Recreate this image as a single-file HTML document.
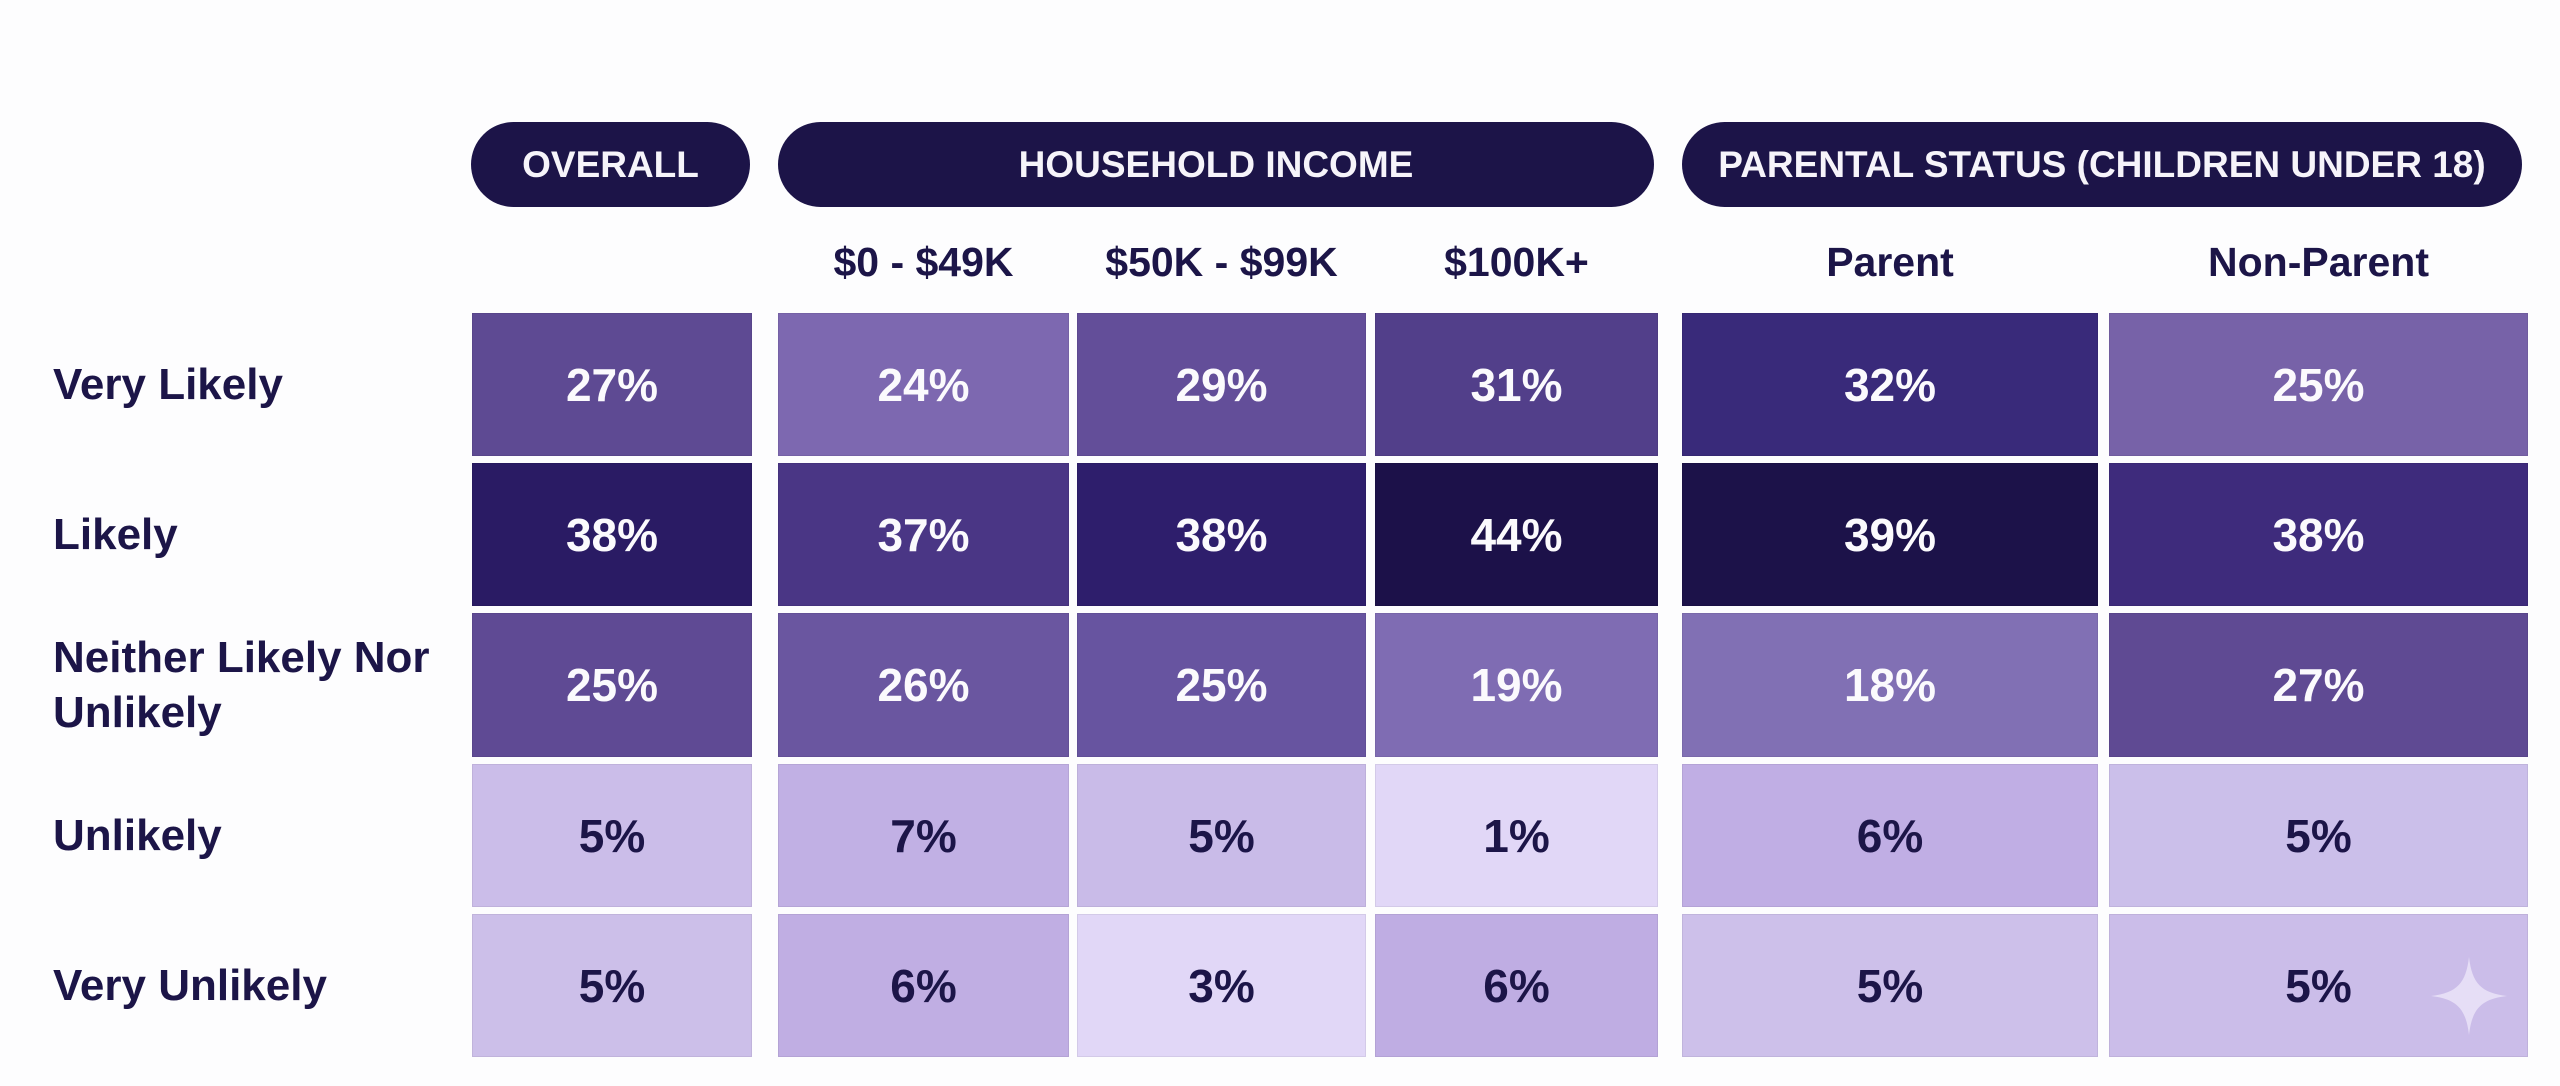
<!DOCTYPE html>
<html>
<head>
<meta charset="utf-8">
<style>
  html, body { margin:0; padding:0; }
  body { width:2560px; height:1086px; background:#fdfdfe; position:relative; overflow:hidden;
         font-family:"Liberation Sans", Arial, sans-serif; font-weight:bold; }
  .pill { position:absolute; top:122px; height:85px; border-radius:43px; background:#1c1448;
          color:#f6f4fa; font-size:37px; display:flex; align-items:center; justify-content:center; }
  .sub { position:absolute; top:236px; height:52px; font-size:41px; color:#1c1548;
         display:flex; align-items:center; justify-content:center; }
  .lbl { position:absolute; left:53px; font-size:44px; line-height:55px; color:#1c1548;
         display:flex; align-items:center; }
  .c { position:absolute; display:flex; align-items:center; justify-content:center;
       font-size:46px; color:#fbfafd; box-sizing:border-box; border:1px solid rgba(0,0,0,0.06); }
  .d { color:#1c1548; }
</style>
</head>
<body>
<!-- header pills -->
<div class="pill" style="left:471px;width:279px;">OVERALL</div>
<div class="pill" style="left:778px;width:876px;">HOUSEHOLD INCOME</div>
<div class="pill" style="left:1682px;width:840px;">PARENTAL STATUS (CHILDREN UNDER 18)</div>

<!-- sub headers -->
<div class="sub" style="left:778px;width:291px;">$0 - $49K</div>
<div class="sub" style="left:1077px;width:289px;">$50K - $99K</div>
<div class="sub" style="left:1375px;width:283px;">$100K+</div>
<div class="sub" style="left:1682px;width:416px;">Parent</div>
<div class="sub" style="left:2109px;width:419px;">Non-Parent</div>

<!-- row labels -->
<div class="lbl" style="top:313px;height:143px;">Very Likely</div>
<div class="lbl" style="top:463px;height:143px;">Likely</div>
<div class="lbl" style="top:613px;height:144px;">Neither Likely Nor<br>Unlikely</div>
<div class="lbl" style="top:764px;height:143px;">Unlikely</div>
<div class="lbl" style="top:914px;height:143px;">Very Unlikely</div>

<!-- Row 1 -->
<div class="c" style="left:472px;width:280px;top:313px;height:143px;background:#5e4a93;">27%</div>
<div class="c" style="left:778px;width:291px;top:313px;height:143px;background:#7d68b0;">24%</div>
<div class="c" style="left:1077px;width:289px;top:313px;height:143px;background:#634e99;">29%</div>
<div class="c" style="left:1375px;width:283px;top:313px;height:143px;background:#523f8a;">31%</div>
<div class="c" style="left:1682px;width:416px;top:313px;height:143px;background:#392a7a;">32%</div>
<div class="c" style="left:2109px;width:419px;top:313px;height:143px;background:#7762a8;">25%</div>

<!-- Row 2 -->
<div class="c" style="left:472px;width:280px;top:463px;height:143px;background:#2a1b64;">38%</div>
<div class="c" style="left:778px;width:291px;top:463px;height:143px;background:#4a3685;">37%</div>
<div class="c" style="left:1077px;width:289px;top:463px;height:143px;background:#2e1e6c;">38%</div>
<div class="c" style="left:1375px;width:283px;top:463px;height:143px;background:#1c1149;">44%</div>
<div class="c" style="left:1682px;width:416px;top:463px;height:143px;background:#1c1249;">39%</div>
<div class="c" style="left:2109px;width:419px;top:463px;height:143px;background:#3e2b7c;">38%</div>

<!-- Row 3 -->
<div class="c" style="left:472px;width:280px;top:613px;height:144px;background:#5f4a94;">25%</div>
<div class="c" style="left:778px;width:291px;top:613px;height:144px;background:#6a56a0;">26%</div>
<div class="c" style="left:1077px;width:289px;top:613px;height:144px;background:#6754a0;">25%</div>
<div class="c" style="left:1375px;width:283px;top:613px;height:144px;background:#7f6cb3;">19%</div>
<div class="c" style="left:1682px;width:416px;top:613px;height:144px;background:#8170b4;">18%</div>
<div class="c" style="left:2109px;width:419px;top:613px;height:144px;background:#5f4a93;">27%</div>

<!-- Row 4 -->
<div class="c d" style="left:472px;width:280px;top:764px;height:143px;background:#cbbde9;">5%</div>
<div class="c d" style="left:778px;width:291px;top:764px;height:143px;background:#c1b0e4;">7%</div>
<div class="c d" style="left:1077px;width:289px;top:764px;height:143px;background:#c9bbe8;">5%</div>
<div class="c d" style="left:1375px;width:283px;top:764px;height:143px;background:#e1d7f7;">1%</div>
<div class="c d" style="left:1682px;width:416px;top:764px;height:143px;background:#c0aee4;">6%</div>
<div class="c d" style="left:2109px;width:419px;top:764px;height:143px;background:#cbbfea;">5%</div>

<!-- Row 5 -->
<div class="c d" style="left:472px;width:280px;top:914px;height:143px;background:#ccbfe9;">5%</div>
<div class="c d" style="left:778px;width:291px;top:914px;height:143px;background:#c0aee3;">6%</div>
<div class="c d" style="left:1077px;width:289px;top:914px;height:143px;background:#e1d7f7;">3%</div>
<div class="c d" style="left:1375px;width:283px;top:914px;height:143px;background:#bfade3;">6%</div>
<div class="c d" style="left:1682px;width:416px;top:914px;height:143px;background:#cdc0ea;">5%</div>
<div class="c d" style="left:2109px;width:419px;top:914px;height:143px;background:#cbbde9;">5%</div>

<!-- sparkle -->
<svg style="position:absolute;left:2431px;top:957px;" width="76" height="78" viewBox="0 0 76 78">
  <path d="M38 0 C41 26 50 36 76 39 C50 42 41 52 38 78 C35 52 26 42 0 39 C26 36 35 26 38 0 Z" fill="#e6def6"/>
</svg>
</body>
</html>
